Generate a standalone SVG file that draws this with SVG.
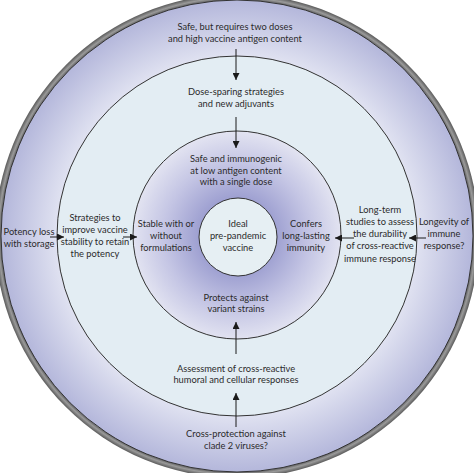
<svg xmlns="http://www.w3.org/2000/svg" width="474" height="473" viewBox="0 0 474 473">
<defs>
<radialGradient id="rim" cx="237" cy="236" r="242" gradientUnits="userSpaceOnUse">
<stop offset="0.97" stop-color="#4a4a4a"/>
<stop offset="0.985" stop-color="#9a9a9a"/>
<stop offset="1" stop-color="#5a5a5a"/>
</radialGradient>
<radialGradient id="g1" cx="237" cy="236" r="236" gradientUnits="userSpaceOnUse">
<stop offset="0.76" stop-color="#e0e2f1"/>
<stop offset="1" stop-color="#b4b7db"/>
</radialGradient>
<radialGradient id="g3" cx="237" cy="236" r="104" gradientUnits="userSpaceOnUse">
<stop offset="0.35" stop-color="#9c9ed0"/>
<stop offset="0.7" stop-color="#c4c5e4"/>
<stop offset="1" stop-color="#e2e3f1"/>
</radialGradient>
<marker id="ah" viewBox="0 0 10 10" refX="10" refY="5" markerWidth="7" markerHeight="7" markerUnits="userSpaceOnUse" orient="auto">
<path d="M0,0 L10,5 L0,10 z" fill="#1a1a1a"/>
</marker>
<style>
.t{font-family:Lato,"Open Sans",sans-serif;font-size:9.3px;fill:#2b2b2b;text-anchor:middle}
.c{stroke:#333;stroke-width:1}
.a{stroke:#1a1a1a;stroke-width:1;fill:none;marker-end:url(#ah)}
</style>
</defs>
<rect width="474" height="473" fill="#fff"/>
<g id="rings">
<circle cx="237" cy="236" r="242" fill="url(#rim)"/>
<circle class="c" cx="237" cy="236" r="236" fill="url(#g1)"/>
<circle class="c" cx="237" cy="236" r="180" fill="#e3edf3"/>
<circle class="c" cx="237" cy="235" r="104" fill="url(#g3)"/>
<circle class="c" cx="238" cy="237" r="39" fill="#e6eff3" stroke-width="1.2"/>
</g>
<g id="connectors">
<line class="a" x1="236" y1="49" x2="236" y2="80"/>
<line class="a" x1="236" y1="117" x2="236" y2="148"/>
<line class="a" x1="236" y1="354" x2="236" y2="322"/>
<line class="a" x1="236" y1="427" x2="236" y2="393"/>
<line class="a" x1="50" y1="237" x2="64" y2="237"/>
<line class="a" x1="123" y1="237" x2="137" y2="237"/>
<line class="a" x1="354" y1="238" x2="335" y2="238"/>
<line class="a" x1="426" y1="238" x2="409" y2="238"/>
</g>
<g id="n-outer-top"><text class="t" x="235" y="30">Safe, but requires two doses</text><text class="t" x="235" y="42">and high vaccine antigen content</text></g>
<g id="n-mid-top"><text class="t" x="236" y="95">Dose-sparing strategies</text><text class="t" x="236" y="107">and new adjuvants</text></g>
<g id="n-inner-top"><text class="t" x="236" y="162">Safe and immunogenic</text><text class="t" x="236" y="173.5">at low antigen content</text><text class="t" x="236" y="185">with a single dose</text></g>
<g id="n-center"><text class="t" x="238" y="227">Ideal</text><text class="t" x="238" y="239">pre-pandemic</text><text class="t" x="238" y="251">vaccine</text></g>
<g id="n-inner-left"><text class="t" x="166" y="227">Stable with or</text><text class="t" x="166" y="239">without</text><text class="t" x="166" y="251">formulations</text></g>
<g id="n-inner-right"><text class="t" x="306" y="227">Confers</text><text class="t" x="306" y="239">long-lasting</text><text class="t" x="306" y="251">immunity</text></g>
<g id="n-outer-left"><text class="t" x="29" y="235">Potency loss</text><text class="t" x="29" y="247">with storage</text></g>
<g id="n-mid-left"><text class="t" x="95" y="221">Strategies to</text><text class="t" x="95" y="233">improve vaccine</text><text class="t" x="95" y="245">stability to retain</text><text class="t" x="95" y="257">the potency</text></g>
<g id="n-mid-right"><text class="t" x="380" y="213">Long-term</text><text class="t" x="380" y="225">studies to assess</text><text class="t" x="380" y="237">the durability</text><text class="t" x="380" y="249">of cross-reactive</text><text class="t" x="380" y="261.5">immune response</text></g>
<g id="n-outer-right"><text class="t" x="444" y="225">Longevity of</text><text class="t" x="444" y="237">immune</text><text class="t" x="444" y="249">response?</text></g>
<g id="n-inner-bottom"><text class="t" x="236" y="301">Protects against</text><text class="t" x="236" y="312">variant strains</text></g>
<g id="n-mid-bottom"><text class="t" x="236" y="372">Assessment of cross-reactive</text><text class="t" x="236" y="383">humoral and cellular responses</text></g>
<g id="n-outer-bottom"><text class="t" x="236" y="437">Cross-protection against</text><text class="t" x="236" y="449">clade 2 viruses?</text></g>
</svg>
